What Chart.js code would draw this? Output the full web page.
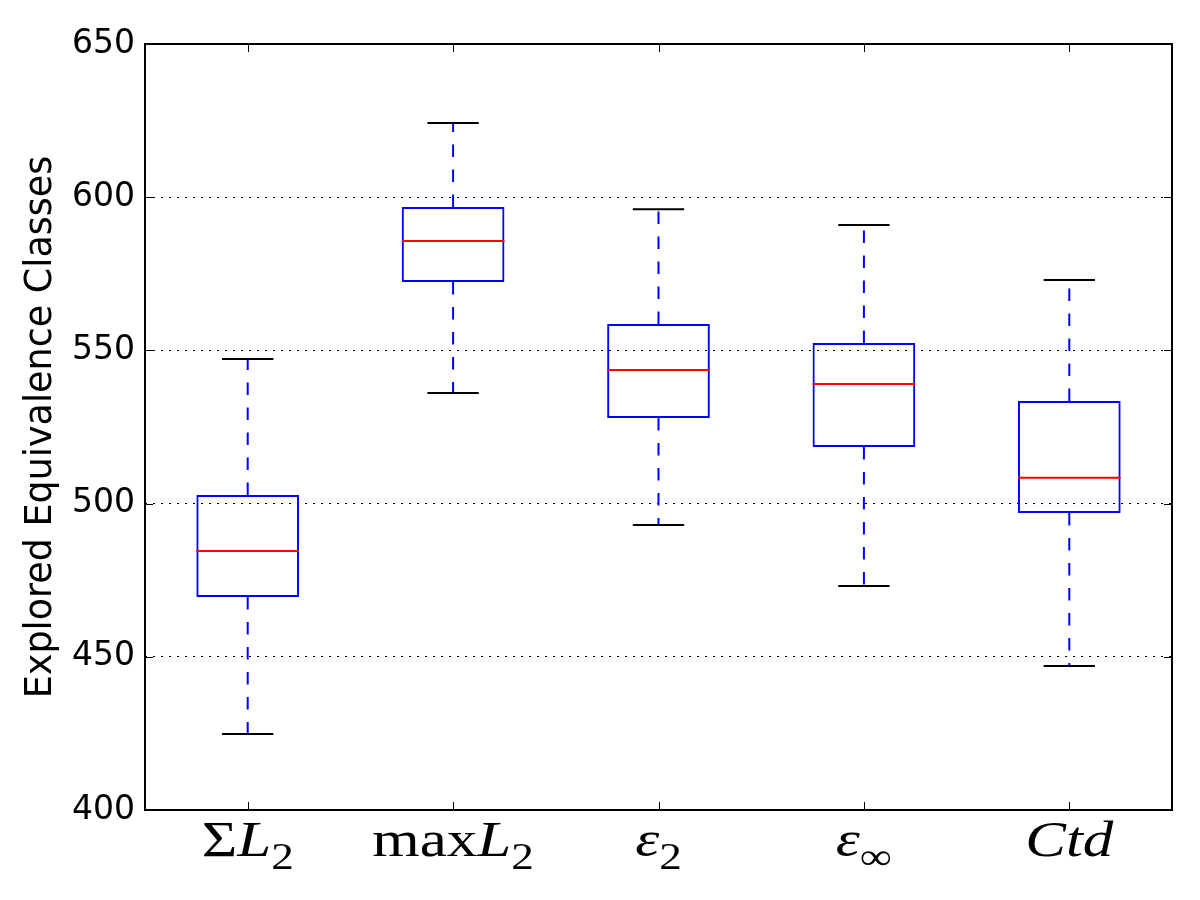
<!DOCTYPE html>
<html><head><meta charset="utf-8">
<script src="https://cdn.jsdelivr.net/npm/chart.js@4/dist/chart.umd.min.js"></script>
<style>html,body{margin:0;padding:0;background:#fff}#wrap{width:1200px;height:900px}</style>
</head><body><div id="wrap"><canvas id="c" width="1200" height="900"></canvas></div>
<script>
// ---- data ----
const categories = ['ΣL2', 'maxL2', 'ε2', 'ε∞', 'Ctd'];
const whiskerLow  = [424.8, 536.1, 493.0, 473.1, 447.0];
const q1          = [469.5, 572.3, 527.9, 518.5, 496.9];
const median      = [484.5, 585.7, 543.6, 539.0, 508.4];
const q3          = [502.8, 596.8, 558.6, 552.4, 533.5];
const whiskerHigh = [547.2, 624.2, 596.1, 590.9, 573.0];
const yTicks = [400, 450, 500, 550, 600, 650];
const yTitle = 'Explored Equivalence Classes';
// tick label pieces: [text, style]  r = roman, i = italic, s = subscript
const tickLabelParts = [
  [['Σ', 'r'], ['L', 'i'], ['2', 's']],
  [['max', 'r'], ['L', 'i'], ['2', 's']],
  [['ε', 'i'], ['2', 's']],
  [['ε', 'i'], ['∞', 's']],
  [['Ctd', 'i']]
];

// ---- derived datasets ----
const pos = categories.map((c, i) => i + 1);
const boxData = pos.map((p, i) => ({x: p, y: [q1[i], q3[i]]}));
function segs(fn) {
  const out = [];
  pos.forEach((p, i) => { fn(p, i).forEach(pt => out.push(pt)); out.push({x: p, y: null}); });
  return out;
}
const whiskerData = segs((p, i) => [{x: p, y: q3[i]}, {x: p, y: whiskerHigh[i]}, {x: p, y: null}, {x: p, y: q1[i]}, {x: p, y: whiskerLow[i]}]);
const capData = segs((p, i) => [{x: p - 0.125, y: whiskerHigh[i]}, {x: p + 0.125, y: whiskerHigh[i]}, {x: p, y: null}, {x: p - 0.125, y: whiskerLow[i]}, {x: p + 0.125, y: whiskerLow[i]}]);
const medianData = segs((p, i) => [{x: p - 0.25, y: median[i]}, {x: p + 0.25, y: median[i]}]);

const lineBase = {type: 'line', pointRadius: 0, pointHoverRadius: 0, tension: 0, spanGaps: false, borderWidth: 2, fill: false};

const overlay = {
  id: 'overlay',
  afterDraw(chart) {
    const {ctx, chartArea: a, scales: {x, y}} = chart;
    ctx.save();
    ctx.strokeStyle = '#000';
    ctx.lineWidth = 1;
    const line = (x1, y1, x2, y2) => { ctx.beginPath(); ctx.moveTo(x1, y1); ctx.lineTo(x2, y2); ctx.stroke(); };
    pos.forEach(p => {
      const px = Math.round(x.getPixelForValue(p)) + 0.5;
      line(px, a.bottom, px, a.bottom - 8);
      line(px, a.top, px, a.top + 8);
    });
    yTicks.forEach(v => {
      const py = Math.round(y.getPixelForValue(v)) + 0.5;
      line(a.left, py, a.left + 8, py);
      line(a.right, py, a.right - 8, py);
    });
    ctx.lineWidth = 2;
    ctx.strokeRect(a.left, a.top, a.right - a.left, a.bottom - a.top);
    // math-style tick labels
    const size = 50, stretch = 1.22;
    const fonts = {
      r: size + 'px "Liberation Serif"',
      i: 'italic ' + size + 'px "Liberation Serif"',
      s: Math.round(size * 0.74) + 'px "Liberation Serif"'
    };
    const baseY = 856;
    ctx.fillStyle = '#000';
    ctx.textBaseline = 'alphabetic';
    ctx.textAlign = 'left';
    tickLabelParts.forEach((parts, i) => {
      let w = 0;
      const widths = parts.map(([t, s]) => { ctx.font = fonts[s]; const m = ctx.measureText(t).width * stretch; w += m; return m; });
      let cx = x.getPixelForValue(pos[i]) - w / 2;
      parts.forEach(([t, s], k) => {
        ctx.font = fonts[s];
        ctx.save();
        ctx.translate(cx, s === 's' ? baseY + 13 : baseY);
        ctx.scale(stretch, 1);
        ctx.fillText(t, 0, 0);
        ctx.restore();
        cx += widths[k];
      });
    });
    ctx.restore();
  }
};

new Chart(document.getElementById('c'), {
  type: 'bar',
  data: {
    datasets: [
      {type: 'bar', data: boxData, backgroundColor: 'rgba(0,0,0,0)', borderColor: '#0000ff', borderWidth: 2,
       borderSkipped: false, barPercentage: 0.5, categoryPercentage: 1, order: 3},
      Object.assign({}, lineBase, {data: whiskerData, borderColor: '#0000ff', borderDash: [12.5, 12.5], order: 4}),
      Object.assign({}, lineBase, {data: capData, borderColor: '#000000', order: 2}),
      Object.assign({}, lineBase, {data: medianData, borderColor: '#ff0000', order: 1})
    ]
  },
  options: {
    responsive: false,
    devicePixelRatio: 1,
    animation: false,
    events: [],
    layout: {padding: {top: 44, right: 28, left: 0, bottom: 0}},
    plugins: {legend: {display: false}, tooltip: {enabled: false}},
    scales: {
      x: {
        type: 'linear', min: 0.5, max: 5.5, offset: false,
        afterBuildTicks: s => { s.ticks = pos.map(v => ({value: v})); },
        grid: {display: false, offset: false},
        border: {display: false},
        ticks: {display: false},
        afterFit: s => { s.height = 90; }
      },
      y: {
        type: 'linear', min: 400, max: 650,
        afterBuildTicks: s => { s.ticks = yTicks.map(v => ({value: v})); },
        ticks: {color: '#000', padding: 10, font: {family: 'DejaVu Sans', size: 33}},
        grid: {color: '#000', lineWidth: 1, drawTicks: false},
        border: {display: false, dash: [2, 6]},
        title: {display: true, text: yTitle, color: '#000', font: {family: 'DejaVu Sans', size: 36.5}, padding: {top: 20, bottom: 0}},
        afterFit: s => { s.width = 145; }
      }
    }
  },
  plugins: [overlay]
});
</script>
</body></html>
